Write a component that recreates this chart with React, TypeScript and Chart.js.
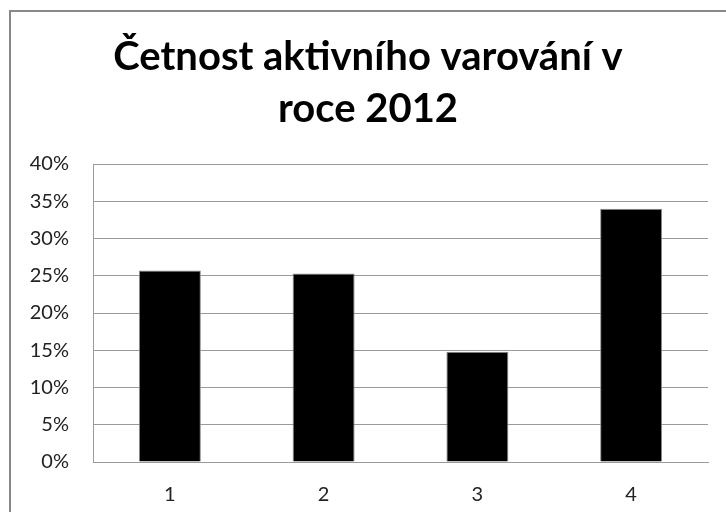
import React, { useEffect, useRef } from "react";
import { Chart, registerables } from "chart.js";

Chart.register(...registerables);

const titleLines = ["Četnost aktivního varování v", "roce 2012"];
const categories = ["1", "2", "3", "4"];
const values = [25.7, 25.3, 14.8, 34.0];
const yMin = 0;
const yMax = 40;
const yStep = 5;

export default function App() {
  const ref = useRef<HTMLCanvasElement | null>(null);

  useEffect(() => {
    if (!ref.current) return;
    const chart = new Chart(ref.current, {
      type: "bar",
      data: {
        labels: categories,
        datasets: [
          {
            data: values,
            backgroundColor: "#000000",
            borderColor: "#8a8a8a",
            borderWidth: 1,
            barPercentage: 0.403,
            categoryPercentage: 1,
          },
        ],
      },
      options: {
        responsive: false,
        animation: false,
        devicePixelRatio: 1,
        layout: { padding: { left: 28, right: 18, top: 0, bottom: 0 } },
        plugins: {
          legend: { display: false },
          tooltip: { enabled: false },
          title: {
            display: true,
            text: titleLines,
            color: "#000000",
            font: { family: "Lato", size: 40, weight: "bold", lineHeight: 1.3 },
            padding: { top: 31, bottom: 29 },
          },
        },
        scales: {
          x: {
            grid: { display: false, drawTicks: false },
            border: { display: true, color: "#9a9a9a", width: 1 },
            ticks: {
              color: "#222222",
              font: { family: "Lato", size: 20 },
              padding: 21,
            },
            afterFit: (scale: any) => {
              scale.height = 50;
            },
          },
          y: {
            min: yMin,
            max: yMax,
            grid: { color: "#9a9a9a", drawTicks: false, lineWidth: 1 },
            border: { display: true, color: "#9a9a9a", width: 1 },
            ticks: {
              stepSize: yStep,
              color: "#222222",
              font: { family: "Lato", size: 20 },
              padding: 24,
              callback: (v: any) => `${v}%`,
            },
            afterFit: (scale: any) => {
              scale.width = 65;
            },
          },
        },
      },
    });
    return () => chart.destroy();
  }, []);

  return (
    <div
      style={{
        position: "fixed",
        left: 0,
        top: 0,
        width: 726,
        height: 512,
        overflow: "hidden",
        background: "#ffffff",
      }}
    >
      <div
        style={{
          position: "absolute",
          left: 9,
          top: 10,
          width: 740,
          height: 540,
          border: "2px solid #888888",
          boxSizing: "border-box",
        }}
      />
      <canvas
        ref={ref}
        width={726}
        height={512}
        style={{ position: "absolute", left: 0, top: 0, width: 726, height: 512 }}
      />
    </div>
  );
}
